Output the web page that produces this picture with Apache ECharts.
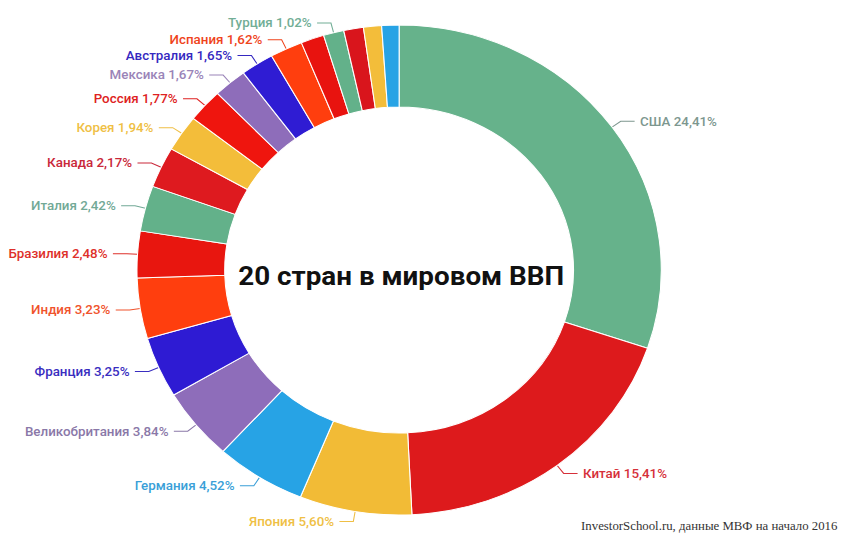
<!DOCTYPE html>
<html>
<head>
<meta charset="utf-8">
<script src="https://cdn.jsdelivr.net/npm/echarts@6/dist/echarts.min.js"></script>
<style>
html,body{margin:0;padding:0;background:#fff;overflow:hidden;}
#wrap{width:844px;height:539px;overflow:hidden;background:#fff;}
#chart{width:789px;height:539px;transform:scaleX(1.07);transform-origin:0 0;}
</style>
</head>
<body>
<div id="wrap"><div id="chart"></div></div>
<script>
const countries = ['США','Китай','Япония','Германия','Великобритания','Франция','Индия','Бразилия','Италия','Канада','Корея','Россия','Мексика','Австралия','Испания','Индонезия','Турция','Нидерланды','Швейцария','Саудовская Аравия'];
const shares = [24.41,15.41,5.60,4.52,3.84,3.25,3.23,2.48,2.42,2.17,1.94,1.77,1.67,1.65,1.62,1.16,1.02,0.98,0.90,0.86];
const unlabeled = ['Индонезия','Нидерланды','Швейцария','Саудовская Аравия'];
const titleText = '20 стран в мировом ВВП';
const sourceText = 'InvestorSchool.ru, данные МВФ на начало 2016';

const sliceColors = ['#66b28b','#dd1a1c','#f2bb36','#27a3e5','#8e6dba','#2e1bd3','#ff3e0e','#e8160f','#63b18a','#de1a1f','#f3bd3a','#ef150e','#8e6dba','#2f1cd3','#ff3e0e','#e8130f','#63b18a','#d9151c','#f3bd3a','#27a3e5'];
const labelColors = ['#7d978f','#d6303a','#efbf45','#3a9fd8','#8a78a8','#3a2ec0','#f0532c','#de302a','#72a996','#c9283a','#efbf45','#de2222','#9a84b8','#3528c0','#ef441c','#de2222','#72ae96','#de2222','#efbf45','#3a9fd8'];

const fmt = v => v.toFixed(2).replace('.', ',') + '%';

const data = countries.map((name, i) => {
  const hide = unlabeled.indexOf(name) >= 0;
  return {
    name: name,
    value: shares[i],
    itemStyle: { color: sliceColors[i] },
    label: hide ? { show: false } : { color: labelColors[i] },
    labelLine: hide ? { show: false } : { lineStyle: { color: labelColors[i] } }
  };
});

const chart = echarts.init(document.getElementById('chart'), null, { renderer: 'svg' });
chart.setOption({
  backgroundColor: '#fff',
  animation: false,
  title: [{
    text: titleText,
    left: 370, top: 271,
    textAlign: 'center', textVerticalAlign: 'middle',
    textStyle: { fontFamily: 'Roboto', fontWeight: 'bold', fontSize: 26, color: '#111' }
  }, {
    text: sourceText,
    right: 1, bottom: 2,
    textStyle: { fontFamily: 'Liberation Serif', fontWeight: 'normal', fontSize: 12, color: '#333' }
  }],
  series: [{
    type: 'pie',
    center: [373, 270],
    radius: [163, 245],
    startAngle: 90,
    clockwise: true,
    avoidLabelOverlap: true,
    itemStyle: { borderColor: '#fff', borderWidth: 1 },
    label: {
      show: true,
      position: 'outside',
      overflow: 'none',
      edgeDistance: 0,
      fontFamily: 'Roboto',
      fontWeight: 500,
      fontSize: 12.5,
      formatter: p => p.name + ' ' + fmt(p.value)
    },
    labelLine: { show: true, length: 10, length2: 13, lineStyle: { width: 1 } },
    emphasis: { disabled: true },
    data: data
  }]
});
</script>
</body>
</html>
